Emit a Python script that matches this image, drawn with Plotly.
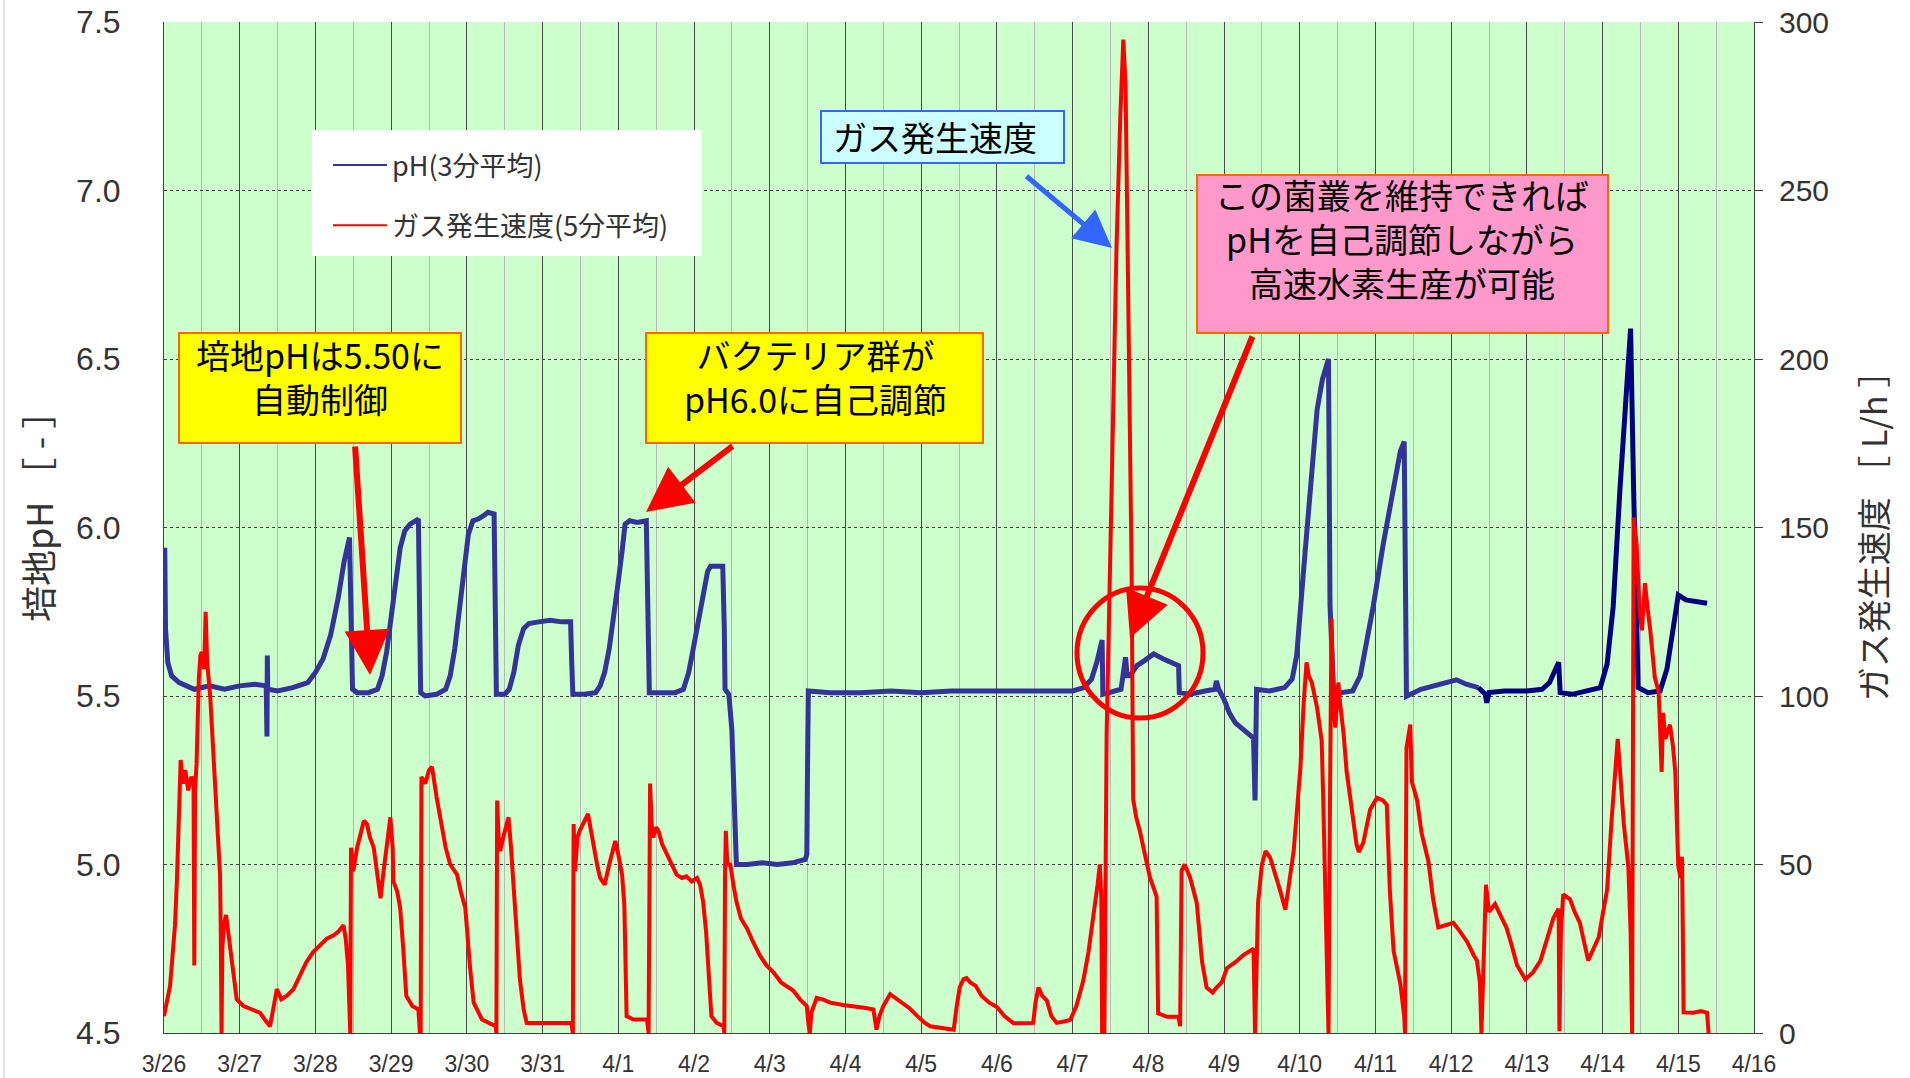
import plotly.graph_objects as go

# ---------------- data (days since 3/26 0:00) ----------------
x_tick_vals = list(range(0, 22))
x_tick_text = ["3/26", "3/27", "3/28", "3/29", "3/30", "3/31", "4/1", "4/2", "4/3", "4/4",
               "4/5", "4/6", "4/7", "4/8", "4/9", "4/10", "4/11", "4/12", "4/13", "4/14",
               "4/15", "4/16"]

ph_days = [0.00, 0.01, 0.02, 0.05, 0.10, 0.20, 0.40, 0.60, 0.80, 1.00, 1.20, 1.35, 1.36, 1.365, 1.37,
           1.50, 1.70, 1.90, 2.00, 2.10, 2.20, 2.30, 2.38, 2.45, 2.47, 2.49, 2.55, 2.70, 2.82, 2.88,
           2.94, 3.00, 3.06, 3.12, 3.18, 3.25, 3.36, 3.37, 3.39, 3.45, 3.60, 3.72, 3.78, 3.84, 3.90,
           3.96, 4.02, 4.08, 4.15, 4.22, 4.28, 4.36, 4.37, 4.39, 4.50, 4.56, 4.62, 4.68, 4.75, 4.82,
           4.95, 5.10, 5.25, 5.37, 5.385, 5.40, 5.55, 5.70, 5.76, 5.82, 5.88, 5.94, 6.00, 6.05, 6.09,
           6.15, 6.25, 6.37, 6.39, 6.41, 6.55, 6.75, 6.86, 6.93, 6.99, 7.05, 7.12, 7.18, 7.22, 7.30,
           7.38, 7.40, 7.41, 7.46, 7.50, 7.53, 7.56, 7.70, 7.90, 8.10, 8.30, 8.47, 8.49, 8.50, 8.51,
           8.80, 9.20, 9.60, 10.00, 10.40, 10.80, 11.20, 11.60, 12.00, 12.15, 12.25, 12.32, 12.39, 12.40,
           12.50, 12.64, 12.70, 12.72, 12.76, 12.85, 12.95, 13.07, 13.20, 13.30, 13.40, 13.41, 13.55,
           13.75, 13.88, 13.90, 13.93, 14.00, 14.07, 14.15, 14.26, 14.39, 14.41, 14.43, 14.60, 14.80,
           14.90, 14.96, 15.05, 15.14, 15.23, 15.30, 15.38, 15.40, 15.45, 15.55, 15.70, 15.80, 15.88,
           15.97, 16.10, 16.24, 16.33, 16.38, 16.41, 16.60, 16.85, 17.07, 17.20, 17.36, 17.45, 17.47,
           17.50, 17.70, 18.00, 18.20, 18.30, 18.42, 18.44, 18.60, 18.80, 18.97, 19.06, 19.14, 19.23,
           19.32, 19.37, 19.41, 19.47, 19.60, 19.76, 19.85, 19.94, 20.00, 20.10, 20.25, 20.38]
ph_vals = [5.80, 5.94, 5.70, 5.60, 5.56, 5.54, 5.52, 5.53, 5.52, 5.53, 5.535, 5.53, 5.38, 5.62, 5.52,
           5.515, 5.525, 5.54, 5.57, 5.61, 5.68, 5.79, 5.90, 5.97, 5.80, 5.52, 5.51, 5.51, 5.52, 5.56,
           5.63, 5.74, 5.86, 5.94, 5.99, 6.01, 6.025, 5.80, 5.51, 5.50, 5.505, 5.52, 5.56, 5.64, 5.76,
           5.88, 5.98, 6.02, 6.025, 6.035, 6.045, 6.04, 5.80, 5.505, 5.505, 5.52, 5.57, 5.65, 5.70, 5.715,
           5.72, 5.725, 5.72, 5.72, 5.60, 5.505, 5.505, 5.51, 5.53, 5.57, 5.64, 5.73, 5.84, 5.93, 6.01,
           6.02, 6.015, 6.02, 5.80, 5.51, 5.51, 5.51, 5.52, 5.57, 5.64, 5.71, 5.80, 5.87, 5.885, 5.885,
           5.885, 5.70, 5.52, 5.505, 5.40, 5.20, 5.00, 5.00, 5.005, 5.00, 5.005, 5.015, 5.03, 5.30, 5.515,
           5.51, 5.51, 5.515, 5.51, 5.515, 5.515, 5.515, 5.515, 5.515, 5.525, 5.55, 5.60, 5.666, 5.505,
           5.51, 5.52, 5.615, 5.56, 5.56, 5.59, 5.605, 5.625, 5.61, 5.60, 5.59, 5.51, 5.505,
           5.515, 5.52, 5.545, 5.52, 5.49, 5.45, 5.42, 5.40, 5.375, 5.19, 5.52, 5.515, 5.525,
           5.55, 5.62, 5.87, 6.12, 6.35, 6.44, 6.50, 5.77, 5.50, 5.51, 5.515, 5.56, 5.65,
           5.765, 5.947, 6.115, 6.227, 6.255, 5.499, 5.52, 5.535, 5.548, 5.535, 5.525, 5.505, 5.48,
           5.51, 5.515, 5.515, 5.52, 5.54, 5.60, 5.51, 5.505, 5.515, 5.525, 5.595, 5.765, 6.115,
           6.45, 6.59, 6.115, 5.525, 5.51, 5.515, 5.58, 5.72, 5.80, 5.785, 5.78, 5.775]
ph_color_change_day = 17.36

gas_days = [0.00, 0.05, 0.08, 0.12, 0.145, 0.17, 0.19, 0.21, 0.22, 0.25, 0.28, 0.32, 0.36, 0.39, 0.40,
            0.41, 0.43, 0.46, 0.48, 0.50, 0.53, 0.55, 0.57, 0.61, 0.67, 0.74, 0.75, 0.76, 0.77, 0.79,
            0.82, 0.86, 0.89, 0.93, 0.96, 1.05, 1.15, 1.27, 1.33, 1.40, 1.45, 1.49, 1.55, 1.62, 1.71,
            1.80, 1.88, 1.97, 2.06, 2.15, 2.24, 2.30, 2.37, 2.40, 2.43, 2.45, 2.46, 2.47, 2.50, 2.55,
            2.60, 2.64, 2.68, 2.72, 2.77, 2.82, 2.86, 2.90, 2.95, 2.99, 3.02, 3.03, 3.08, 3.12, 3.16,
            3.20, 3.28, 3.36, 3.38, 3.39, 3.40, 3.45, 3.50, 3.54, 3.60, 3.65, 3.72, 3.78, 3.83, 3.87,
            3.92, 3.98, 4.04, 4.09, 4.20, 4.30, 4.38, 4.39, 4.40, 4.42, 4.44, 4.48, 4.52, 4.55, 4.58,
            4.62, 4.66, 4.70, 4.75, 4.79, 5.00, 5.20, 5.38, 5.40, 5.41, 5.43, 5.46, 5.49, 5.55, 5.60,
            5.64, 5.67, 5.72, 5.76, 5.82, 5.88, 5.93, 5.96, 6.00, 6.05, 6.08, 6.09, 6.11, 6.20, 6.30,
            6.38, 6.40, 6.41, 6.42, 6.44, 6.46, 6.50, 6.53, 6.58, 6.64, 6.70, 6.77, 6.84, 6.90, 6.97,
            7.04, 7.08, 7.12, 7.16, 7.19, 7.21, 7.23, 7.30, 7.39, 7.40, 7.41, 7.42, 7.44, 7.48, 7.52,
            7.56, 7.62, 7.70, 7.78, 7.87, 7.96, 8.05, 8.15, 8.31, 8.40, 8.49, 8.51, 8.53, 8.55, 8.62,
            8.70, 8.80, 8.97, 9.10, 9.25, 9.37, 9.41, 9.45, 9.50, 9.59, 9.68, 9.77, 9.85, 9.95, 10.05,
            10.12, 10.25, 10.43, 10.47, 10.51, 10.56, 10.60, 10.65, 10.72, 10.80, 10.90, 11.00, 11.10,
            11.22, 11.35, 11.48, 11.51, 11.55, 11.60, 11.66, 11.72, 11.79, 11.90, 11.97, 12.05, 12.14,
            12.21, 12.28, 12.33, 12.36, 12.38, 12.39, 12.42, 12.45, 12.52, 12.58, 12.63, 12.67, 12.70,
            12.74, 12.78, 12.80, 12.84, 12.89, 12.95, 13.02, 13.11, 13.13, 13.25, 13.40, 13.42, 13.44,
            13.48, 13.55, 13.64, 13.68, 13.71, 13.77, 13.85, 13.90, 13.97, 14.04, 14.15, 14.26, 14.39,
            14.41, 14.43, 14.45, 14.50, 14.55, 14.61, 14.68, 14.74, 14.81, 14.86, 14.92, 14.96, 15.01,
            15.05, 15.09, 15.12, 15.16, 15.23, 15.29, 15.31, 15.34, 15.36, 15.38, 15.40, 15.42, 15.44,
            15.47, 15.51, 15.53, 15.58, 15.62, 15.67, 15.71, 15.75, 15.78, 15.84, 15.93, 16.02, 16.10,
            16.15, 16.19, 16.24, 16.33, 16.38, 16.39, 16.41, 16.46, 16.48, 16.55, 16.61, 16.70, 16.76,
            16.83, 16.93, 17.03, 17.12, 17.21, 17.30, 17.34, 17.38, 17.40, 17.43, 17.45, 17.46, 17.50,
            17.58, 17.65, 17.73, 17.80, 17.87, 17.98, 18.08, 18.18, 18.27, 18.35, 18.42, 18.43, 18.45,
            18.48, 18.57, 18.63, 18.70, 18.76, 18.81, 18.88, 18.95, 19.00, 19.06, 19.12, 19.17, 19.20,
            19.24, 19.28, 19.34, 19.37, 19.39, 19.40, 19.41, 19.45, 19.49, 19.52, 19.56, 19.60, 19.63,
            19.69, 19.74, 19.76, 19.78, 19.80, 19.83, 19.89, 19.93, 19.96, 19.99, 20.00, 20.03, 20.05,
            20.06, 20.07, 20.20, 20.30, 20.38, 20.40]
gas_vals = [5, 10, 14, 25, 32, 45, 58, 75, 81, 74, 78, 72, 76, 75, 20,
            72, 80, 105, 112, 113, 108, 125, 110, 100, 77, 47, 30, 0, 25, 32,
            35, 28, 21, 14, 10, 8, 7, 6, 4, 2, 8, 13, 10, 11, 13,
            17, 21, 24, 26, 28, 29, 30, 32, 28, 20, 0, 0, 55, 48, 55,
            60, 63, 62, 58, 55, 46, 40, 48, 58, 64, 55, 45, 42, 37, 25,
            11, 8, 7, 0, 0, 76, 74, 78, 79, 70, 63, 55, 50, 48, 47,
            42, 37, 20, 9, 4, 3, 2, 0, 69, 58, 54, 58, 62, 64, 56,
            42, 28, 16, 7, 3, 3, 3, 3, 0, 62, 48, 58, 60, 63, 65,
            60, 56, 50, 46, 44, 50, 55, 57, 53, 47, 38, 30, 5, 4, 4,
            4, 0, 60, 74, 62, 58, 61, 60, 56, 53, 50, 47, 46, 46.5, 45,
            46, 44, 39, 30, 21, 12, 5, 3, 2, 0, 47, 60, 50, 50, 44,
            39, 34, 31, 27, 23, 20, 18, 15, 12.6, 10, 8, 3, 0, 6, 10.4,
            10, 9, 8.3, 8, 7.5, 7, 1, 5, 8, 11.5, 10, 8.5, 7.3, 5, 3,
            2, 1.5, 1, 8, 13.6, 16, 16.3, 15, 14, 11, 9, 7.7, 5,
            2.9, 2.9, 3, 9, 13.5, 11, 9.6, 5, 3, 3.5, 3.9, 8, 15.4,
            24, 34.7, 44, 50, 40, 0, 0, 88.7, 165.7, 233, 271.7, 294.8, 281.3,
            204, 136.8, 69.4, 64, 59.8, 53, 46.3, 40.5, 5.8, 4.8, 4.8, 2, 48.2,
            50, 46.3, 38.6, 30, 21.2, 13.5, 12, 13.5, 15, 19.3, 21, 23.2, 25,
            0, 25, 38.6, 50, 54, 52, 47, 42.4, 36.6, 45, 54, 65, 79,
            97, 110, 106, 104, 96.4, 86.7, 70, 40.5, 15, 0, 69, 123, 100,
            90.6, 104, 98.5, 88.7, 77.5, 69.4, 63.5, 56, 53.7, 56.5, 66.3, 69.8, 69,
            67.7, 42.5, 24.3, 14.5, 5, 0, 84.5, 91.5, 74.7, 69.1, 59.3, 50.9, 40,
            31.3, 32, 32.7, 30, 27.1, 23, 21.5, 15, 0, 22, 35.5, 44, 36,
            38.3, 35, 31.3, 26, 20.1, 15.9, 18, 21.5, 28, 34.1, 36.9, 0.5, 30,
            41.1, 39.7, 36, 32.7, 27, 21.5, 25, 28.5, 35, 42.5, 63.5, 80, 87.3,
            75, 62.1, 49.5, 30, 0, 100, 153, 145, 125, 119.5, 133.5, 125, 119.5,
            105.5, 101.3, 90, 77.5, 95, 87.3, 91.5, 85, 77.5, 60, 49.5, 46, 52.3,
            30, 6.1, 6, 6.5, 6, 0]

legend_names = ["pH(3分平均)", "ガス発生速度(5分平均)"]
y_title_left = "培地pH ［ - ］"
y_title_right = "ガス発生速度 ［ L/h ］"

# ---------------- figure ----------------
W, H = 1910, 1078
L, R, T, B = 164, 1754, 22, 1033


def px(x):
    return (x - L) / (R - L)


def py(y):
    return (B - y) / (B - T)


split = ph_days.index(ph_color_change_day)
PH_COLOR, PH_COLOR2, GAS_COLOR = "#333399", "#000080", "#FF0000"

fig = go.Figure()
fig.add_trace(go.Scatter(x=ph_days[:split + 1], y=ph_vals[:split + 1], mode="lines",
                         name=legend_names[0], showlegend=False,
                         line=dict(color=PH_COLOR, width=5)))
fig.add_trace(go.Scatter(x=ph_days[split:], y=ph_vals[split:], mode="lines",
                         name=legend_names[0], showlegend=False,
                         line=dict(color=PH_COLOR2, width=5)))
fig.add_trace(go.Scatter(x=gas_days, y=gas_vals, mode="lines", yaxis="y2",
                         name=legend_names[1], showlegend=False,
                         line=dict(color=GAS_COLOR, width=4)))
# legend entries (thin sample lines as in the original legend)
fig.add_trace(go.Scatter(x=[None], y=[None], mode="lines", name=legend_names[0],
                         legendgroup="ph", line=dict(color=PH_COLOR, width=2)))
fig.add_trace(go.Scatter(x=[None], y=[None], mode="lines", name=legend_names[1], yaxis="y2",
                         legendgroup="gas", line=dict(color=GAS_COLOR, width=2)))

JP = "Noto Sans CJK JP"
NUM = "Liberation Sans, Arial"

shapes = []
annotations = []

# left image border
shapes.append(dict(type="line", xref="paper", yref="paper", x0=px(4), x1=px(4), y0=py(0), y1=py(1078),
                   line=dict(color="#C8C8C8", width=1)))
# legend panel
shapes.append(dict(type="rect", xref="paper", yref="paper", x0=px(312), x1=px(702),
                   y0=py(256), y1=py(130), fillcolor="#FFFFFF", line=dict(width=0), layer="above"))


def box(x0, y0, x1, y1, fill, edge):
    shapes.append(dict(type="rect", xref="paper", yref="paper", x0=px(x0), x1=px(x1),
                       y0=py(y1), y1=py(y0), fillcolor=fill, line=dict(color=edge, width=2),
                       layer="above"))


def label(lines, cx, cy, size=34):
    annotations.append(dict(text="<br>".join(lines), xref="paper", yref="paper", x=px(cx), y=py(cy),
                            xanchor="center", yanchor="middle", align="center", showarrow=False,
                            font=dict(family=JP, size=size, color="#000000")))


def arrow(tip, tail, color, width):
    annotations.append(dict(text="", xref="paper", yref="paper", x=px(tip[0]), y=py(tip[1]),
                            axref="pixel", ayref="pixel", ax=tail[0] - tip[0], ay=tail[1] - tip[1],
                            showarrow=True, arrowhead=2, arrowsize=1.5, arrowwidth=width,
                            arrowcolor=color, standoff=0, startstandoff=0))


box(179, 333, 461, 443, "#FFFF00", "#FF6600")
label(["培地pHは5.50に", "自動制御"], 320, 376)

box(646, 333, 983, 443, "#FFFF00", "#FF6600")
label(["バクテリア群が", "pH6.0に自己調節"], 815, 376)

box(821, 111, 1064, 163, "#CCFFFF", "#3366FF")
label(["ガス発生速度"], 935, 136)

box(1197, 175, 1608, 333, "#FF99CC", "#FF6600")
label(["この菌叢を維持できれば", "pHを自己調節しながら", "高速水素生産が可能"], 1402, 238)

arrow((370, 675), (355, 445), GAS_COLOR, 6)
arrow((646, 512), (734, 445), GAS_COLOR, 6)
arrow((1112, 248), (1025, 175), "#3366FF", 5)
arrow((1130, 638), (1253, 335), GAS_COLOR, 6)

shapes.append(dict(type="circle", xref="paper", yref="paper", x0=px(1077), x1=px(1203),
                   y0=py(718), y1=py(588), line=dict(color=GAS_COLOR, width=5), layer="above"))

# left axis title (placed to match the original's position)
annotations.append(dict(text=y_title_left, xref="paper", yref="paper", x=px(37), y=py(508),
                        xanchor="center", yanchor="middle", textangle=-90, showarrow=False,
                        font=dict(family=JP, size=36, color="#333333")))

fig.update_layout(
    width=W, height=H,
    margin=dict(l=L, r=W - R, t=T, b=H - B, autoexpand=False),
    paper_bgcolor="#FFFFFF",
    plot_bgcolor="#CCFFCC",
    showlegend=True,
    legend=dict(x=px(328), y=py(141), xanchor="left", yanchor="top", bgcolor="rgba(0,0,0,0)",
                borderwidth=0, font=dict(family=JP, size=27, color="#333333"),
                tracegroupgap=22, itemwidth=54),
    xaxis=dict(range=[0, 21], tickmode="array", tickvals=x_tick_vals, ticktext=x_tick_text,
               automargin=False,
               showgrid=True, gridcolor="#4A4A4A", gridwidth=1,
               minor=dict(dtick=0.5, tick0=0, showgrid=True, gridcolor="#B8B8B8", gridwidth=1),
               showline=True, linecolor="#404040", linewidth=1, ticks="",
               tickfont=dict(family=NUM, size=23, color="#333333"), ticklabelstandoff=10,
               zeroline=False),
    yaxis=dict(range=[4.5, 7.5], dtick=0.5, tick0=4.5, tickformat=".1f", automargin=False,
               showgrid=True, gridcolor="#404040", gridwidth=1, griddash="dot",
               showline=True, linecolor="#404040", linewidth=1, ticks="",
               tickfont=dict(family=NUM, size=32, color="#333333"), ticklabelstandoff=36,
               zeroline=False),
    yaxis2=dict(range=[0, 300], dtick=50, overlaying="y", side="right", showgrid=False,
                automargin=False,
                showline=True, linecolor="#404040", linewidth=1, ticks="outside", ticklen=8,
                tickcolor="#404040",
                tickfont=dict(family=NUM, size=30, color="#333333"), ticklabelstandoff=10,
                zeroline=False,
                title=dict(text=y_title_right, font=dict(family=JP, size=34, color="#333333"),
                           standoff=35)),
    shapes=shapes,
    annotations=annotations,
)

fig.write_html("out.html", config={"displayModeBar": False},
               post_script="document.body.style.margin='0';document.body.style.padding='0';"
                           "document.body.style.overflow='hidden';")
